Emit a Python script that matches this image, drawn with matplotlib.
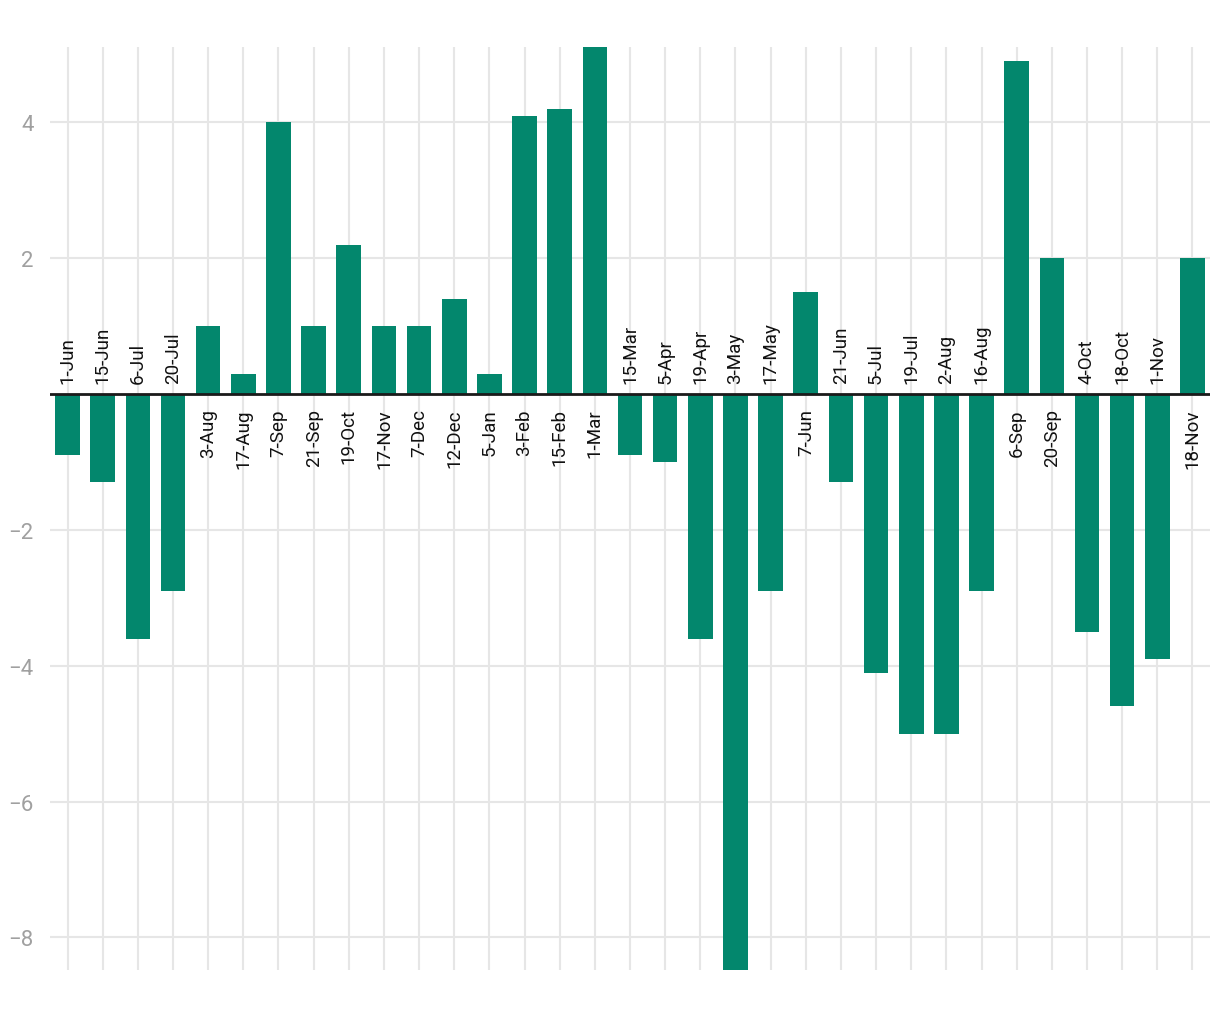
import matplotlib
matplotlib.use("Agg")
import matplotlib.pyplot as plt
from matplotlib import transforms

dates = [
    "1-Jun", "15-Jun", "6-Jul", "20-Jul", "3-Aug", "17-Aug", "7-Sep", "21-Sep",
    "19-Oct", "17-Nov", "7-Dec", "12-Dec", "5-Jan", "3-Feb", "15-Feb", "1-Mar",
    "15-Mar", "5-Apr", "19-Apr", "3-May", "17-May", "7-Jun", "21-Jun", "5-Jul",
    "19-Jul", "2-Aug", "16-Aug", "6-Sep", "20-Sep", "4-Oct", "18-Oct", "1-Nov",
    "18-Nov",
]
values = [
    -0.9, -1.3, -3.6, -2.9, 1.0, 0.3, 4.0, 1.0,
    2.2, 1.0, 1.0, 1.4, 0.3, 4.1, 4.2, 5.2,
    -0.9, -1.0, -3.6, -8.6, -2.9, 1.5, -1.3, -4.1,
    -5.0, -5.0, -2.9, 4.9, 2.0, -3.5, -4.6, -3.9,
    2.0,
]
y_ticks = [-8, -6, -4, -2, 2, 4]

BAR_COLOR = "#03876d"
GRID_COLOR = "#e6e6e6"

plt.rcParams["font.family"] = ["Roboto", "DejaVu Sans"]

fig = plt.figure(figsize=(12.2, 10.2), dpi=100)
ax = fig.add_axes([50 / 1220, 49 / 1020, 1160 / 1220, 923 / 1020])

x = list(range(len(dates)))
ax.bar(x, values, width=0.7, color=BAR_COLOR, zorder=3)
ax.axhline(0, color="#1a1a1a", linewidth=2, zorder=4)

ax.set_xlim(-0.5, len(dates) - 0.5)
ax.set_ylim(-8.48, 5.11)

ax.set_xticks(x)
ax.set_xticklabels([])
ax.set_yticks(y_ticks)
ax.set_yticklabels([str(t).replace("-", "\u2212") for t in y_ticks])
ax.tick_params(axis="both", length=0)
ax.tick_params(axis="y", labelsize=16, labelcolor="#a0a0a0", pad=12)

ax.grid(True, color=GRID_COLOR, linewidth=1.5, zorder=0)
for side in ["top", "right", "bottom", "left"]:
    ax.spines[side].set_visible(False)

# date labels sit on the opposite side of the zero line from the bar
for xi, label, v in zip(x, dates, values):
    if v < 0:
        off = transforms.offset_copy(ax.transData, fig=fig, x=0, y=11, units="dots")
        ax.text(xi, 0, label, rotation=90, ha="center", va="bottom",
                fontsize=13.5, color="#111111", transform=off, zorder=5)
    else:
        off = transforms.offset_copy(ax.transData, fig=fig, x=0, y=-14, units="dots")
        ax.text(xi, 0, label, rotation=90, ha="center", va="top",
                fontsize=13.5, color="#111111", transform=off, zorder=5)

fig.savefig("out.png", dpi=100)
